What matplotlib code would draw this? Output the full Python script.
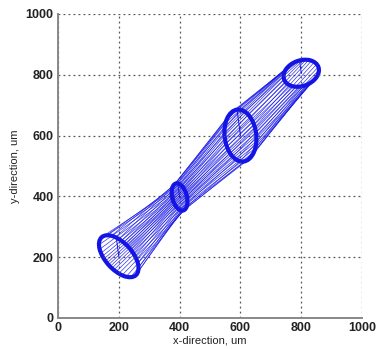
import numpy as np
import matplotlib
matplotlib.use("Agg")
import matplotlib.pyplot as plt
from matplotlib.patches import Ellipse

plt.rcParams['font.family'] = ['Liberation Sans', 'DejaVu Sans']

# cross sections of the tube: centre, semi axes, tilt (deg)
cx = [200, 400, 600, 800]
cy = [203, 398, 600, 805]
semi_a = [84, 46, 86, 60]
semi_b = [44, 24, 52, 42]
tilt = [-48, 105, 97, 20]
twist = [0.2, -0.18, 0.18]   # phase shift of the mesh lines between sections
n_lines = 36

xticks = [0, 200, 400, 600, 800, 1000]
yticks = [0, 200, 400, 600, 800, 1000]

BLUE = "#1414e6"


def ring(i, phi):
    # point of section i seen from its centre in direction phi
    th = np.deg2rad(tilt[i])
    psi = phi - th
    a, b = semi_a[i], semi_b[i]
    r = a * b / np.sqrt((b * np.cos(psi)) ** 2 + (a * np.sin(psi)) ** 2)
    return cx[i] + r * np.cos(phi), cy[i] + r * np.sin(phi)


fig = plt.figure(figsize=(3.76, 3.49), dpi=100)
ax = fig.add_axes([0.154, 0.089, 0.809, 0.871])

phi = np.linspace(0, 2 * np.pi, n_lines, endpoint=False)
for i in range(len(cx) - 1):
    xa, ya = ring(i, phi)
    xb, yb = ring(i + 1, phi + twist[i])
    for k in range(n_lines):
        ax.plot([xa[k], xb[k]], [ya[k], yb[k]], color=BLUE, lw=0.5, alpha=0.85)

for i in range(len(cx)):
    ax.add_patch(Ellipse((cx[i], cy[i]), 2 * semi_a[i], 2 * semi_b[i], angle=tilt[i],
                         fill=False, edgecolor=BLUE, lw=3))
    xr, yr = ring(i, np.array([1.7]))
    ax.plot([cx[i], xr[0]], [cy[i], yr[0]], color=BLUE, lw=0.7)

ax.set_xlim(0, 1000)
ax.set_ylim(0, 1000)
ax.set_xticks(xticks)
ax.set_yticks(yticks)
ax.tick_params(length=0, pad=3, labelsize=9)
for lab in ax.get_xticklabels() + ax.get_yticklabels():
    lab.set_fontweight("bold")
    lab.set_color("#222222")
ax.grid(True, linestyle=(0, (1.5, 2.5)), color="#555555", lw=0.9)
for s in ["top", "right"]:
    ax.spines[s].set_visible(False)
for s in ["left", "bottom"]:
    ax.spines[s].set_color("#888888")
    ax.spines[s].set_linewidth(1.4)
ax.set_xlabel("x-direction, um", fontsize=8, color="#222222", labelpad=1)
ax.set_ylabel("y-direction, um", fontsize=8, color="#222222", labelpad=4)

fig.savefig("out.png", dpi=100)
